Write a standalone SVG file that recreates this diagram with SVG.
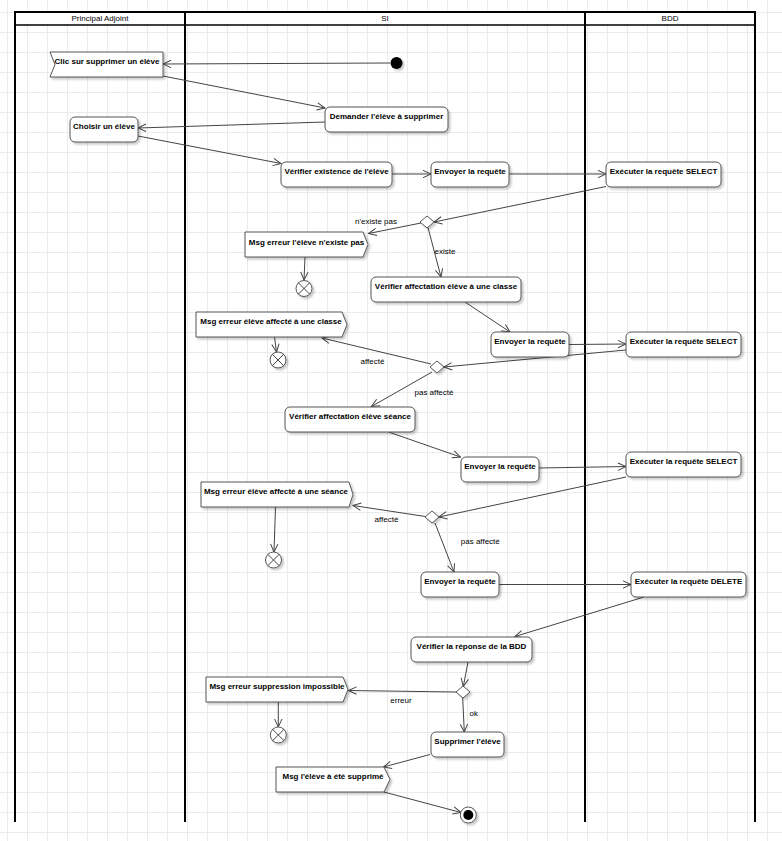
<svg xmlns="http://www.w3.org/2000/svg" width="782" height="841" viewBox="0 0 782 841">
  <defs>
    <pattern id="grid" x="7" y="12" width="20" height="20" patternUnits="userSpaceOnUse">
      <rect x="0" y="0" width="1" height="20" fill="#ebebeb"/>
      <rect x="0" y="0" width="20" height="1" fill="#ebebeb"/>
    </pattern>
    <filter id="sh" x="-10%" y="-20%" width="130%" height="160%">
      <feDropShadow dx="2" dy="2" stdDeviation="1" flood-color="#000" flood-opacity="0.22"/>
    </filter>
    <marker id="arr" viewBox="0 0 10 10" refX="9" refY="5" markerWidth="10" markerHeight="10" markerUnits="userSpaceOnUse" orient="auto">
      <path d="M1,1.3 L9,5 L1,8.7" fill="none" stroke="#444" stroke-width="1"/>
    </marker>
  </defs>
  <style>
    .act { fill: #fff; stroke: #555; stroke-width: 1; filter: url(#sh); }
    .t { font-family: "Liberation Sans", Arial, sans-serif; font-size: 8px; font-weight: bold; fill: #000; text-anchor: middle; }
    .lbl { font-family: "Liberation Sans", Arial, sans-serif; font-size: 8px; fill: #000; text-anchor: middle; }
    .hd { font-family: "Liberation Sans", Arial, sans-serif; font-size: 8px; fill: #000; text-anchor: middle; }
    .lane { stroke: #000; stroke-width: 2; fill: none; }
    .edge { fill: none; stroke: #444; stroke-width: 1; }
    .arrow { marker-end: url(#arr); }
    .ff { fill: #fff; stroke: #555; stroke-width: 1; filter: url(#sh); }
  </style>

  <!-- background grid -->
  <rect x="0" y="0" width="782" height="841" fill="#fff"/>
  <rect x="0" y="0" width="782" height="841" fill="url(#grid)"/>

  <!-- swimlanes -->
  <g id="lanes">
    <rect x="15" y="12" width="740" height="13" fill="#fff"/>
    <line class="lane" x1="14" y1="12" x2="756" y2="12"/>
    <line x1="15" y1="25" x2="755" y2="25" stroke="#000" stroke-width="1.5"/>
    <line class="lane" x1="15" y1="12" x2="15" y2="822"/>
    <line class="lane" x1="185" y1="12" x2="185" y2="822"/>
    <line class="lane" x1="585" y1="12" x2="585" y2="822"/>
    <line class="lane" x1="755" y1="12" x2="755" y2="822" stroke-width="1.5"/>
    <text class="hd" x="100" y="21">Principal Adjoint</text>
    <text class="hd" x="385" y="21">SI</text>
    <text class="hd" x="670" y="21">BDD</text>
  </g>

  <!-- connectors -->
  <g id="connectors">
    <line class="edge arrow" x1="390" y1="63" x2="163" y2="64"/>
    <line class="edge arrow" x1="163" y1="76" x2="325" y2="108"/>
    <line class="edge arrow" x1="325" y1="122" x2="138" y2="128"/>
    <line class="edge arrow" x1="138" y1="136" x2="281" y2="163.5"/>
    <line class="edge arrow" x1="392" y1="174" x2="431" y2="174"/>
    <line class="edge arrow" x1="509" y1="174" x2="606" y2="174"/>
    <line class="edge arrow" x1="606" y1="186.5" x2="434" y2="222"/>
    <line class="edge arrow" x1="421" y1="223" x2="368.5" y2="233.5"/>
    <line class="edge arrow" x1="428" y1="227.5" x2="441" y2="277"/>
    <line class="edge arrow" x1="305" y1="257" x2="304" y2="280"/>
    <line class="edge arrow" x1="465" y1="302" x2="510" y2="332"/>
    <line class="edge arrow" x1="569" y1="344.5" x2="626" y2="344"/>
    <line class="edge arrow" x1="626" y1="350" x2="444" y2="367"/>
    <line class="edge arrow" x1="431" y1="364" x2="322" y2="338"/>
    <line class="edge arrow" x1="274.5" y1="337" x2="276.5" y2="352"/>
    <line class="edge arrow" x1="432" y1="372" x2="371.5" y2="406.5"/>
    <line class="edge arrow" x1="388.5" y1="432" x2="460.5" y2="457"/>
    <line class="edge arrow" x1="539" y1="468" x2="626" y2="466.5"/>
    <line class="edge arrow" x1="626" y1="477" x2="439" y2="517"/>
    <line class="edge arrow" x1="425.5" y1="516.5" x2="353" y2="505.5"/>
    <line class="edge arrow" x1="275.5" y1="507" x2="274" y2="552"/>
    <line class="edge arrow" x1="435" y1="523" x2="454" y2="572"/>
    <line class="edge arrow" x1="499" y1="584.5" x2="631" y2="584.5"/>
    <line class="edge arrow" x1="644" y1="597" x2="515" y2="636.5"/>
    <line class="edge arrow" x1="468" y1="662" x2="463.3" y2="686.5"/>
    <line class="edge arrow" x1="456" y1="692" x2="348.5" y2="690.5"/>
    <line class="edge arrow" x1="278.3" y1="702" x2="278.3" y2="727"/>
    <line class="edge arrow" x1="462.7" y1="698" x2="464.3" y2="732"/>
    <line class="edge arrow" x1="430" y1="754.5" x2="383.5" y2="767"/>
    <line class="edge arrow" x1="384" y1="792" x2="461" y2="812.5"/>
  </g>

  <!-- guard labels -->
  <g id="labels">
    <text class="lbl" x="376" y="224">n'existe pas</text>
    <text class="lbl" x="445" y="254">existe</text>
    <text class="lbl" x="372.5" y="364">affecté</text>
    <text class="lbl" x="434" y="394.5">pas affecté</text>
    <text class="lbl" x="386.5" y="522">affecté</text>
    <text class="lbl" x="480.3" y="543.5">pas affecté</text>
    <text class="lbl" x="401" y="702.5">erreur</text>
    <text class="lbl" x="473.7" y="716">ok</text>
  </g>

  <!-- start -->
  <g id="start">
    <circle cx="396.5" cy="63" r="6" fill="#000" filter="url(#sh)"/>
  </g>

  <!-- Principal Adjoint lane -->
  <g id="clic">
    <path class="act" d="M50,52 L163,52 L163,77 L50,77 L55,64.5 Z"/>
    <text class="t" x="107" y="64">Clic sur supprimer un élève</text>
  </g>
  <g id="choisir">
    <rect class="act" x="70" y="117" width="68" height="25" rx="5"/>
    <text class="t" x="104" y="128.5">Choisir un élève</text>
  </g>

  <!-- SI lane -->
  <g id="demander">
    <rect class="act" x="325" y="107" width="123" height="25" rx="5"/>
    <text class="t" x="386.5" y="118.5">Demander l'élève à supprimer</text>
  </g>
  <g id="verifier-existence">
    <rect class="act" x="281" y="162" width="111" height="25" rx="5"/>
    <text class="t" x="336.5" y="173.5">Vérifier existence de l'élève</text>
  </g>
  <g id="envoyer-1">
    <rect class="act" x="431" y="162" width="78" height="25" rx="5"/>
    <text class="t" x="470" y="173.5">Envoyer la requête</text>
  </g>
  <g id="decision-1">
    <path class="act" d="M427,216 L434,222 L427,228 L420,222 Z"/>
  </g>
  <g id="msg-inexistant">
    <path class="act" d="M245,232 L363,232 L368,244.5 L363,257 L245,257 Z"/>
    <text class="t" x="306.5" y="244.5">Msg erreur l'élève n'existe pas</text>
  </g>
  <g id="fin-flux-1">
    <circle class="ff" cx="304" cy="288.5" r="8"/>
    <path class="edge" d="M298.3,282.8 L309.7,294.2 M309.7,282.8 L298.3,294.2"/>
  </g>
  <g id="verifier-classe">
    <rect class="act" x="371" y="277" width="150" height="25" rx="5"/>
    <text class="t" x="446" y="288.5">Vérifier affectation élève à une classe</text>
  </g>
  <g id="envoyer-2">
    <rect class="act" x="491" y="332" width="78" height="25" rx="5"/>
    <text class="t" x="530" y="343.5">Envoyer la requête</text>
  </g>
  <g id="decision-2">
    <path class="act" d="M437,361 L444,367 L437,373 L430,367 Z"/>
  </g>
  <g id="msg-classe">
    <path class="act" d="M196,312 L342,312 L347,324.5 L342,337 L196,337 Z"/>
    <text class="t" x="271" y="323.5">Msg erreur élève affecté à une classe</text>
  </g>
  <g id="fin-flux-2">
    <circle class="ff" cx="278" cy="360" r="8"/>
    <path class="edge" d="M272.3,354.3 L283.7,365.7 M283.7,354.3 L272.3,365.7"/>
  </g>
  <g id="verifier-seance">
    <rect class="act" x="285" y="407" width="130" height="25" rx="5"/>
    <text class="t" x="350" y="418.5">Vérifier affectation élève séance</text>
  </g>
  <g id="envoyer-3">
    <rect class="act" x="461" y="457" width="78" height="25" rx="5"/>
    <text class="t" x="500" y="468.5">Envoyer la requête</text>
  </g>
  <g id="decision-3">
    <path class="act" d="M432,511 L439,517 L432,523 L425,517 Z"/>
  </g>
  <g id="msg-seance">
    <path class="act" d="M201,482 L349,482 L353,494.5 L349,507 L201,507 Z"/>
    <text class="t" x="276" y="494">Msg erreur élève affecté à une séance</text>
  </g>
  <g id="fin-flux-3">
    <circle class="ff" cx="273.5" cy="560" r="8"/>
    <path class="edge" d="M267.8,554.3 L279.2,565.7 M279.2,554.3 L267.8,565.7"/>
  </g>
  <g id="envoyer-4">
    <rect class="act" x="421" y="572" width="78" height="25" rx="5"/>
    <text class="t" x="460" y="583.5">Envoyer la requête</text>
  </g>
  <g id="verifier-reponse">
    <rect class="act" x="411" y="637" width="121" height="25" rx="5"/>
    <text class="t" x="471.5" y="648.5">Vérifier la réponse de la BDD</text>
  </g>
  <g id="decision-4">
    <path class="act" d="M463,686 L470,692 L463,698 L456,692 Z"/>
  </g>
  <g id="msg-suppression">
    <path class="act" d="M206,677 L343,677 L348,689.5 L343,702 L206,702 Z"/>
    <text class="t" x="277" y="689">Msg erreur suppression impossible</text>
  </g>
  <g id="fin-flux-4">
    <circle class="ff" cx="278.3" cy="735" r="8"/>
    <path class="edge" d="M272.6,729.3 L284,740.7 M284,729.3 L272.6,740.7"/>
  </g>
  <g id="supprimer">
    <rect class="act" x="431" y="732" width="73" height="25" rx="5"/>
    <text class="t" x="467.5" y="743.5">Supprimer l'élève</text>
  </g>
  <g id="msg-supprime">
    <path class="act" d="M276,767 L384,767 L390,779.5 L384,792 L276,792 Z"/>
    <text class="t" x="333" y="778.5">Msg l'élève à été supprimé</text>
  </g>
  <g id="fin">
    <circle class="ff" cx="468.3" cy="815" r="8"/>
    <circle cx="468.3" cy="815" r="5" fill="#000"/>
  </g>

  <!-- BDD lane -->
  <g id="executer-1">
    <rect class="act" x="606" y="162" width="115" height="25" rx="5"/>
    <text class="t" x="663.5" y="173.5">Exécuter la requête SELECT</text>
  </g>
  <g id="executer-2">
    <rect class="act" x="626" y="332" width="115" height="25" rx="5"/>
    <text class="t" x="683.5" y="343.5">Exécuter la requête SELECT</text>
  </g>
  <g id="executer-3">
    <rect class="act" x="626" y="452" width="115" height="25" rx="5"/>
    <text class="t" x="683.5" y="463.5">Exécuter la requête SELECT</text>
  </g>
  <g id="executer-delete">
    <rect class="act" x="631" y="572" width="115" height="25" rx="5"/>
    <text class="t" x="688.5" y="583.5">Exécuter la requête DELETE</text>
  </g>
</svg>
